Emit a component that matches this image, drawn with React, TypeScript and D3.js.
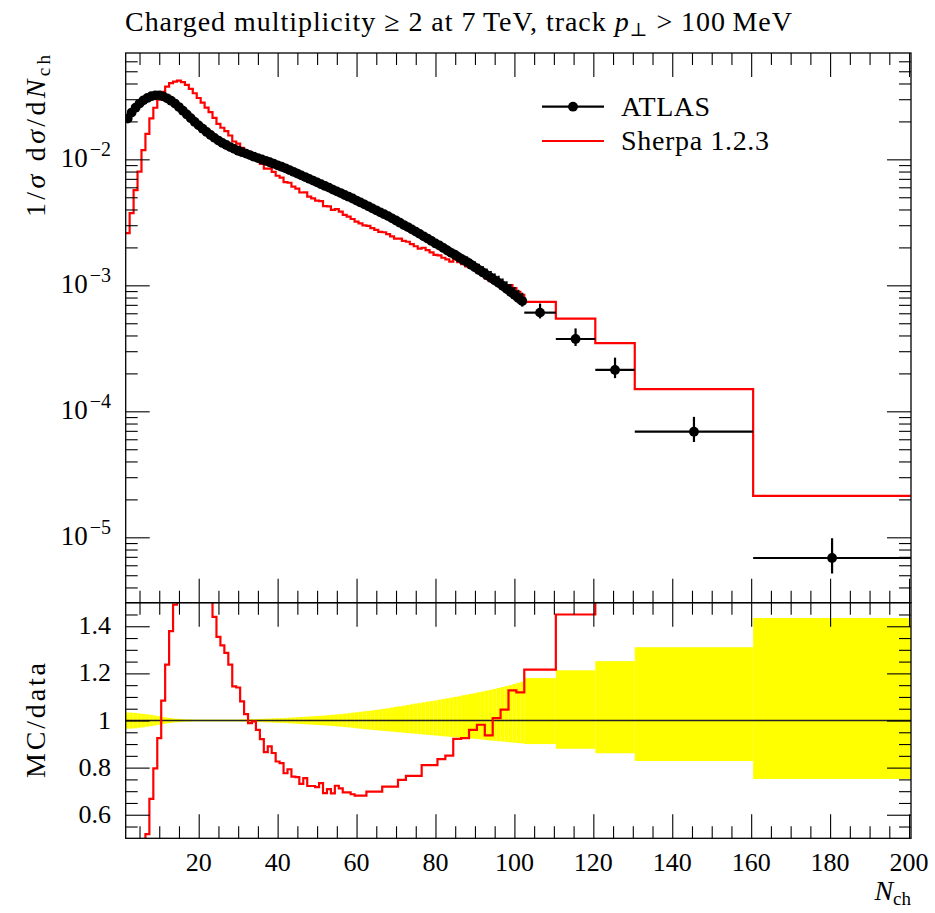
import React, { useEffect, useRef } from "react";
import * as d3 from "d3";

// bin edges in N_ch (narrow unit bins up to 102.5, then wide bins)
const binEdges = [
  1.5, 2.5, 3.5, 4.5, 5.5, 6.5, 7.5, 8.5, 9.5, 10.5,
  11.5, 12.5, 13.5, 14.5, 15.5, 16.5, 17.5, 18.5, 19.5, 20.5,
  21.5, 22.5, 23.5, 24.5, 25.5, 26.5, 27.5, 28.5, 29.5, 30.5,
  31.5, 32.5, 33.5, 34.5, 35.5, 36.5, 37.5, 38.5, 39.5, 40.5,
  41.5, 42.5, 43.5, 44.5, 45.5, 46.5, 47.5, 48.5, 49.5, 50.5,
  51.5, 52.5, 53.5, 54.5, 55.5, 56.5, 57.5, 58.5, 59.5, 60.5,
  61.5, 62.5, 63.5, 64.5, 65.5, 66.5, 67.5, 68.5, 69.5, 70.5,
  71.5, 72.5, 73.5, 74.5, 75.5, 76.5, 77.5, 78.5, 79.5, 80.5,
  81.5, 82.5, 83.5, 84.5, 85.5, 86.5, 87.5, 88.5, 89.5, 90.5,
  91.5, 92.5, 93.5, 94.5, 95.5, 96.5, 97.5, 98.5, 99.5, 100.5,
  101.5, 102.5, 110.5, 120.5, 130.5, 160.5, 200.5,
];

// ATLAS 1/sigma dsigma/dNch
const atlas = [
  0.0211, 0.0235, 0.0257, 0.0277, 0.0294, 0.0307, 0.0317, 0.0322, 0.0322, 0.0316,
  0.0305, 0.0292, 0.0277, 0.026, 0.0243, 0.0227, 0.0212, 0.0198, 0.0186, 0.0175,
  0.0165, 0.0156, 0.0148, 0.0141, 0.0135, 0.013, 0.0125, 0.0121, 0.0117, 0.0114,
  0.0111, 0.0108, 0.0105, 0.01023, 0.00998, 0.00973, 0.00948, 0.00923, 0.00897, 0.00873,
  0.00849, 0.00822, 0.00796, 0.00771, 0.00746, 0.00723, 0.007, 0.00678, 0.00656, 0.00635,
  0.00615, 0.00596, 0.00575, 0.00557, 0.0054, 0.00521, 0.00505, 0.00489, 0.00471, 0.00455,
  0.00439, 0.00424, 0.00408, 0.00394, 0.0038, 0.00367, 0.00354, 0.0034, 0.00327, 0.00314,
  0.00301, 0.0029, 0.00278, 0.00267, 0.00256, 0.00245, 0.00235, 0.00225, 0.00215, 0.00207,
  0.00198, 0.00189, 0.00181, 0.00174, 0.00166, 0.00159, 0.00153, 0.001456, 0.00139, 0.001324,
  0.001265, 0.001205, 0.001151, 0.001096, 0.001047, 0.000993, 0.00094, 0.000889, 0.000841, 0.000794,
  0.00075, 0.000607, 0.000375, 0.000213, 0.0000689, 0.00000685,
];

// relative uncertainties of the data (up / down)
const atlasErrUp = [
  0.034, 0.033, 0.032, 0.03, 0.028, 0.026, 0.024, 0.021, 0.018, 0.015,
  0.012, 0.01, 0.008, 0.007, 0.006, 0.005, 0.005, 0.004, 0.004, 0.004,
  0.004, 0.004, 0.004, 0.004, 0.004, 0.004, 0.004, 0.004, 0.004, 0.005,
  0.005, 0.006, 0.006, 0.007, 0.007, 0.008, 0.008, 0.009, 0.01, 0.01,
  0.011, 0.012, 0.013, 0.014, 0.015, 0.016, 0.017, 0.018, 0.019, 0.02,
  0.021, 0.023, 0.024, 0.026, 0.027, 0.029, 0.031, 0.033, 0.035, 0.037,
  0.039, 0.041, 0.043, 0.045, 0.047, 0.05, 0.052, 0.055, 0.058, 0.06,
  0.063, 0.066, 0.069, 0.072, 0.074, 0.077, 0.08, 0.082, 0.085, 0.088,
  0.091, 0.094, 0.097, 0.1, 0.103, 0.107, 0.11, 0.113, 0.116, 0.12,
  0.123, 0.127, 0.13, 0.134, 0.138, 0.142, 0.146, 0.15, 0.155, 0.16,
  0.165, 0.18, 0.213, 0.252, 0.311, 0.435,
];
const atlasErrDn = [
  0.035, 0.034, 0.033, 0.031, 0.029, 0.026, 0.024, 0.021, 0.018, 0.015,
  0.012, 0.01, 0.008, 0.007, 0.006, 0.005, 0.005, 0.004, 0.004, 0.004,
  0.004, 0.004, 0.004, 0.004, 0.004, 0.004, 0.004, 0.004, 0.004, 0.005,
  0.005, 0.006, 0.006, 0.007, 0.007, 0.008, 0.008, 0.009, 0.01, 0.01,
  0.011, 0.012, 0.013, 0.014, 0.015, 0.016, 0.017, 0.018, 0.019, 0.02,
  0.021, 0.022, 0.023, 0.025, 0.026, 0.028, 0.029, 0.031, 0.033, 0.035,
  0.037, 0.038, 0.04, 0.041, 0.043, 0.044, 0.046, 0.047, 0.049, 0.05,
  0.052, 0.053, 0.055, 0.056, 0.058, 0.059, 0.061, 0.062, 0.064, 0.065,
  0.067, 0.068, 0.07, 0.071, 0.072, 0.073, 0.075, 0.076, 0.078, 0.079,
  0.081, 0.083, 0.085, 0.086, 0.088, 0.089, 0.091, 0.093, 0.094, 0.096,
  0.097, 0.1, 0.12, 0.139, 0.172, 0.248,
];

// Sherpa 1.2.3 / ATLAS per bin
const mcOverData = [
  0.123, 0.159, 0.222, 0.288, 0.403, 0.518, 0.667, 0.797, 0.925, 1.084,
  1.237, 1.379, 1.492, 1.62, 1.69, 1.72, 1.71, 1.69, 1.65, 1.61,
  1.56, 1.52, 1.44, 1.355, 1.319, 1.287, 1.237, 1.145, 1.14, 1.081,
  1.027, 0.989, 0.996, 0.96, 0.921, 0.866, 0.89, 0.862, 0.826, 0.819,
  0.776, 0.793, 0.762, 0.76, 0.731, 0.755, 0.722, 0.722, 0.717, 0.734,
  0.692, 0.709, 0.691, 0.723, 0.712, 0.695, 0.695, 0.687, 0.681, 0.681,
  0.681, 0.698, 0.698, 0.698, 0.698, 0.719, 0.719, 0.719, 0.719, 0.748,
  0.748, 0.765, 0.765, 0.765, 0.765, 0.811, 0.811, 0.811, 0.811, 0.836,
  0.836, 0.851, 0.851, 0.922, 0.922, 0.925, 0.925, 0.96, 0.96, 0.982,
  0.982, 0.937, 0.937, 1.01, 1.01, 1.046, 1.046, 1.128, 1.128, 1.119,
  1.119, 1.216, 1.45, 1.63, 2.18, 3.11,
];

const xMajorTicks = [20, 40, 60, 80, 100, 120, 140, 160, 180, 200];
const logDecades = [-5, -4, -3, -2];
const ratioMajorTicks = [0.6, 0.8, 1, 1.2, 1.4];
const legendLabels = ["ATLAS", "Sherpa 1.2.3"];

const FONT = "'Liberation Serif', 'DejaVu Serif', serif";

function App() {
  const ref = useRef<SVGSVGElement>(null);

  useEffect(() => {
    const svg = d3.select(ref.current);
    svg.selectAll("*").remove();

    const left = 125.7;
    const right = 911;
    const top = 53;
    const mid = 602.7;
    const bottom = 838.3;

    const x = d3.scaleLinear().domain([1.5, 200.5]).range([left, right]);
    const y = d3
      .scaleLog()
      .domain([Math.pow(10, -5.519), Math.pow(10, -1.156)])
      .range([mid, top]);
    const yr = d3.scaleLinear().domain([0.5, 1.5]).range([bottom, mid]);

    const bins = atlas.map((v, i) => ({
      lo: binEdges[i],
      hi: binEdges[i + 1],
      c: (binEdges[i] + binEdges[i + 1]) / 2,
      v,
      r: mcOverData[i],
      mc: v * mcOverData[i],
      up: atlasErrUp[i],
      dn: atlasErrDn[i],
    }));

    const defs = svg.append("defs");
    defs
      .append("clipPath")
      .attr("id", "clipMain")
      .append("rect")
      .attr("x", left)
      .attr("y", top)
      .attr("width", right - left)
      .attr("height", mid - top);
    defs
      .append("clipPath")
      .attr("id", "clipRatio")
      .append("rect")
      .attr("x", left)
      .attr("y", mid)
      .attr("width", right - left)
      .attr("height", bottom - mid);

    // ratio panel: yellow data band
    const ratioG = svg.append("g").attr("clip-path", "url(#clipRatio)");
    ratioG
      .selectAll("rect.band")
      .data(bins)
      .enter()
      .append("rect")
      .attr("class", "band")
      .attr("x", (d) => x(d.lo))
      .attr("width", (d) => x(d.hi) - x(d.lo))
      .attr("y", (d) => yr(1 + d.up))
      .attr("height", (d) => yr(1 - d.dn) - yr(1 + d.up))
      .attr("fill", "#ffff00");

    ratioG
      .append("line")
      .attr("x1", left)
      .attr("x2", right)
      .attr("y1", yr(1))
      .attr("y2", yr(1))
      .attr("stroke", "#222")
      .attr("stroke-width", 1.3);

    const stepPts = (val: (d: any) => number) => {
      const pts: [number, number][] = [];
      bins.forEach((d) => {
        pts.push([d.lo, val(d)]);
        pts.push([d.hi, val(d)]);
      });
      return pts;
    };

    ratioG
      .append("path")
      .datum(stepPts((d) => d.r))
      .attr("fill", "none")
      .attr("stroke", "#ff0000")
      .attr("stroke-width", 2.2)
      .attr(
        "d",
        d3
          .line<[number, number]>()
          .x((d) => x(d[0]))
          .y((d) => yr(d[1]))
      );

    // main panel
    const mainG = svg.append("g").attr("clip-path", "url(#clipMain)");

    mainG
      .append("path")
      .datum(stepPts((d) => d.mc))
      .attr("fill", "none")
      .attr("stroke", "#ff0000")
      .attr("stroke-width", 2.2)
      .attr(
        "d",
        d3
          .line<[number, number]>()
          .x((d) => x(d[0]))
          .y((d) => y(d[1]))
      );

    const pts = mainG.append("g");
    pts
      .selectAll("line.xerr")
      .data(bins)
      .enter()
      .append("line")
      .attr("x1", (d) => x(d.lo))
      .attr("x2", (d) => x(d.hi))
      .attr("y1", (d) => y(d.v))
      .attr("y2", (d) => y(d.v))
      .attr("stroke", "#000")
      .attr("stroke-width", 2.2);
    pts
      .selectAll("line.yerr")
      .data(bins)
      .enter()
      .append("line")
      .attr("x1", (d) => x(d.c))
      .attr("x2", (d) => x(d.c))
      .attr("y1", (d) => y(d.v * (1 + d.up)))
      .attr("y2", (d) => y(d.v * (1 - d.dn)))
      .attr("stroke", "#000")
      .attr("stroke-width", 2.2);
    pts
      .selectAll("circle")
      .data(bins)
      .enter()
      .append("circle")
      .attr("cx", (d) => x(d.c))
      .attr("cy", (d) => y(d.v))
      .attr("r", 4.9)
      .attr("fill", "#000");

    // ticks
    const xMinor = d3.range(5, 201, 5).filter((v) => v % 20 !== 0);
    const logMinor: number[] = [];
    [-6, -5, -4, -3, -2, -1].forEach((e) =>
      [2, 3, 4, 5, 6, 7, 8, 9].forEach((m) => {
        const v = m * Math.pow(10, e);
        if (v > y.domain()[0] && v < y.domain()[1]) logMinor.push(v);
      })
    );
    const logMajor = logDecades.map((e) => Math.pow(10, e));
    const rMinor = d3
      .range(0.55, 1.5, 0.05)
      .filter((v) => Math.abs(Math.round(v * 5) - v * 5) > 0.01);

    const tickGroup = (axis: any, tx: number, ty: number) => {
      const g = svg
        .append("g")
        .attr("transform", "translate(" + tx + "," + ty + ")")
        .call(axis);
      g.select(".domain").remove();
      g.selectAll(".tick line").attr("stroke", "#000").attr("stroke-width", 1.1);
      g.selectAll(".tick text").remove();
    };

    [
      [xMajorTicks, 24],
      [xMinor, 12],
    ].forEach(([vals, len]: any) => {
      tickGroup(d3.axisBottom(x).tickValues(vals).tickSize(len).tickSizeOuter(0), 0, top);
      tickGroup(d3.axisTop(x).tickValues(vals).tickSize(len).tickSizeOuter(0), 0, mid);
      tickGroup(d3.axisBottom(x).tickValues(vals).tickSize(len).tickSizeOuter(0), 0, mid);
      tickGroup(d3.axisTop(x).tickValues(vals).tickSize(len).tickSizeOuter(0), 0, bottom);
    });
    [
      [logMajor, 24],
      [logMinor, 12],
    ].forEach(([vals, len]: any) => {
      tickGroup(d3.axisRight(y).tickValues(vals).tickSize(len).tickSizeOuter(0), left, 0);
      tickGroup(d3.axisLeft(y).tickValues(vals).tickSize(len).tickSizeOuter(0), right, 0);
    });
    [
      [ratioMajorTicks, 24],
      [rMinor, 12],
    ].forEach(([vals, len]: any) => {
      tickGroup(d3.axisRight(yr).tickValues(vals).tickSize(len).tickSizeOuter(0), left, 0);
      tickGroup(d3.axisLeft(yr).tickValues(vals).tickSize(len).tickSizeOuter(0), right, 0);
    });

    // frames
    [
      [top, mid],
      [mid, bottom],
    ].forEach(([a, b]) => {
      svg
        .append("rect")
        .attr("x", left)
        .attr("y", a)
        .attr("width", right - left)
        .attr("height", b - a)
        .attr("fill", "none")
        .attr("stroke", "#000")
        .attr("stroke-width", 1.3);
    });

    // tick labels
    const txt = svg.append("g").attr("font-family", FONT).attr("fill", "#000");
    xMajorTicks.forEach((v) => {
      txt
        .append("text")
        .attr("x", x(v))
        .attr("y", 871)
        .attr("text-anchor", "middle")
        .style("font-size", "26px")
        .text(String(v));
    });
    logDecades.forEach((e) => {
      const t = txt
        .append("text")
        .attr("x", 111)
        .attr("y", y(Math.pow(10, e)) + 8)
        .attr("text-anchor", "end")
        .style("font-size", "27px");
      t.append("tspan").text("10");
      t.append("tspan")
        .attr("dx", 2)
        .attr("dy", -11)
        .style("font-size", "20px")
        .text("\u2212" + Math.abs(e));
    });
    ratioMajorTicks.forEach((v) => {
      txt
        .append("text")
        .attr("x", 111)
        .attr("y", yr(v) + 8)
        .attr("text-anchor", "end")
        .style("font-size", "26px")
        .text(v === 1 ? "1" : v.toFixed(1));
    });

    // title
    const title = txt
      .append("text")
      .attr("x", 125)
      .attr("y", 31)
      .attr("textLength", 667)
      .attr("lengthAdjust", "spacing")
      .style("font-size", "28px");
    title.append("tspan").text("Charged multiplicity \u2265 2 at 7\u2009TeV, track ");
    title.append("tspan").style("font-style", "italic").text("p");
    title.append("tspan").attr("dy", 5).style("font-size", "19px").text("\u22a5");
    title.append("tspan").attr("dy", -5).text(" > 100\u2009MeV");

    // y label main
    const yl = txt
      .append("text")
      .attr("transform", "translate(45,55) rotate(-90)")
      .attr("text-anchor", "end")
      .attr("textLength", 162)
      .attr("lengthAdjust", "spacing")
      .style("font-size", "28px");
    yl.append("tspan").text("1/");
    yl.append("tspan").style("font-style", "italic").text("\u03c3");
    yl.append("tspan").text(" d");
    yl.append("tspan").style("font-style", "italic").text("\u03c3");
    yl.append("tspan").text("/d");
    yl.append("tspan").style("font-style", "italic").text("N");
    yl.append("tspan").attr("dy", 5).style("font-size", "19px").text("ch");

    // y label ratio
    txt
      .append("text")
      .attr("transform", "translate(45," + yr(1) + ") rotate(-90)")
      .attr("text-anchor", "middle")
      .attr("textLength", 115)
      .attr("lengthAdjust", "spacing")
      .style("font-size", "28px")
      .text("MC/data");

    // x label
    const xl = txt
      .append("text")
      .attr("x", 911)
      .attr("y", 900)
      .attr("text-anchor", "end")
      .style("font-size", "28px");
    xl.append("tspan").style("font-style", "italic").text("N");
    xl.append("tspan").attr("dy", 5).style("font-size", "19px").text("ch");

    // legend
    const lg = svg.append("g");
    const legendY = [106.7, 141];
    lg.append("line")
      .attr("x1", 542)
      .attr("x2", 604)
      .attr("y1", legendY[0])
      .attr("y2", legendY[0])
      .attr("stroke", "#000")
      .attr("stroke-width", 2.2);
    lg.append("circle").attr("cx", 573).attr("cy", legendY[0]).attr("r", 4.9).attr("fill", "#000");
    lg.append("line")
      .attr("x1", 542)
      .attr("x2", 604)
      .attr("y1", legendY[1])
      .attr("y2", legendY[1])
      .attr("stroke", "#ff0000")
      .attr("stroke-width", 2.2);
    legendLabels.forEach((s, i) => {
      lg.append("text")
        .attr("x", 621)
        .attr("y", legendY[i] + 9)
        .attr("font-family", FONT)
        .attr("textLength", i === 0 ? 89 : 148)
        .attr("lengthAdjust", "spacing")
        .style("font-size", "28px")
        .text(s);
    });
  }, []);

  return (
    <svg
      ref={ref}
      width={935}
      height={913}
      style={{ position: "absolute", left: 0, top: 0, background: "#fff" }}
    />
  );
}

export default App;
